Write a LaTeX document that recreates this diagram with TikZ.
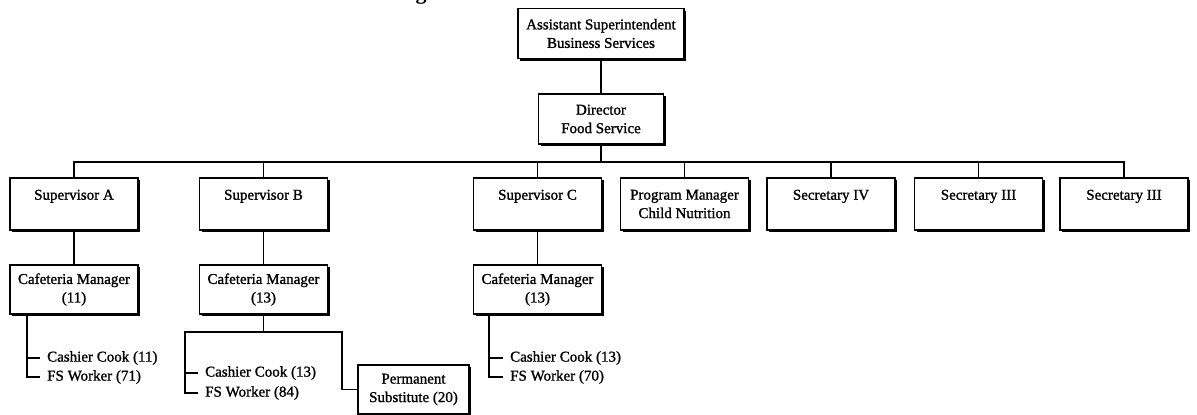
\documentclass[tikz,border=0pt]{standalone}
\usepackage{fontspec}
\setmainfont{Liberation Serif}
\newfontfamily\chartfont[FakeBold=1.2]{Liberation Serif}
\usetikzlibrary{shadows}
\begin{document}
\begin{tikzpicture}[x=1pt,y=-1pt,
  conn/.style={line width=1.9pt,line cap=rect},
  orgbox/.style={draw,line width=1.9pt,fill=white,inner sep=0pt,align=center,
    font=\chartfont\fontsize{15}{18.5}\selectfont,
    drop shadow={shadow xshift=2pt,shadow yshift=-2pt,fill=black,opacity=1}},
  rowbox/.style={orgbox,minimum width=128pt,minimum height=52pt},
  cmbox/.style={orgbox,minimum width=128pt,minimum height=49pt},
  item/.style={inner sep=0pt,anchor=west,font=\chartfont\fontsize{15}{18.5}\selectfont},
  titlefrag/.style={inner sep=0pt,anchor=base,font=\fontsize{22}{24}\selectfont\bfseries}
]
\useasboundingbox (0,0) rectangle (1197,415);
\begin{scope}
\clip (0,0) rectangle (1197,415);
\node[titlefrag] (frag) at (421,-0.5) {g};

% top boxes
\node[orgbox,minimum width=166pt,minimum height=50pt] (asst) at (601,33.5) {Assistant Superintendent\\Business Services};
\node[orgbox,minimum width=125pt,minimum height=50pt] (dir) at (601,119) {Director\\Food Service};

% second row
\node[rowbox] (supA) at (74,204) {Supervisor A\\~};
\node[rowbox] (supB) at (263.5,204) {Supervisor B\\~};
\node[rowbox] (supC) at (537.5,204) {Supervisor C\\~};
\node[rowbox] (pm) at (684.5,204) {Program Manager\\Child Nutrition};
\node[rowbox] (sec4) at (831,204) {Secretary IV\\~};
\node[rowbox] (sec3a) at (978.5,204) {Secretary III\\~};
\node[rowbox] (sec3b) at (1124,204) {Secretary III\\~};

% cafeteria managers
\node[cmbox] (cmA) at (74,289.5) {Cafeteria Manager\\(11)};
\node[cmbox] (cmB) at (263.5,289.5) {Cafeteria Manager\\(13)};
\node[cmbox] (cmC) at (537.5,289.5) {Cafeteria Manager\\(13)};

% permanent substitute
\node[orgbox,minimum width=111pt,minimum height=49pt] (perm) at (413.5,389.5) {Permanent\\Substitute (20)};

% item lists
\node[item] (a1) at (47,358) {Cashier Cook (11)};
\node[item] (a2) at (47,377) {FS Worker (71)};
\node[item] (b1) at (205,373) {Cashier Cook (13)};
\node[item] (b2) at (205,393) {FS Worker (84)};
\node[item] (c1) at (510,358) {Cashier Cook (13)};
\node[item] (c2) at (510,377) {FS Worker (70)};

% coordinates
\coordinate (busL) at (74,162);
\coordinate (busR) at (1124,162);
\coordinate (la) at (27,0);
\coordinate (lb) at (185,332);
\coordinate (rb) at (342,332);
\coordinate (lc) at (489,0);
\end{scope}

% connectors
\draw[conn] (asst.south) -- (dir.north);
\draw[conn] (dir.south) -- (dir.south |- busL);
\draw[conn] (busL) -- (busR);
\foreach \n in {supA,supB,supC,pm,sec4,sec3a,sec3b}{
  \draw[conn] (\n.north) -- (\n.north |- busL);
}
\draw[conn] (supA.south) -- (cmA.north);
\draw[conn] (supB.south) -- (cmB.north);
\draw[conn] (supC.south) -- (cmC.north);

% list A
\draw[conn] (cmA.south -| la) |- ([xshift=-8pt]a2.west);
\draw[conn] (a1.west -| la) -- ([xshift=-8pt]a1.west);
% list B
\draw[conn] (cmB.south) -- (cmB.south |- lb);
\draw[conn] (lb) -- (rb);
\draw[conn] (lb) |- ([xshift=-8pt]b2.west);
\draw[conn] (b1.west -| lb) -- ([xshift=-8pt]b1.west);
\draw[conn] (rb) |- (perm.west);
% list C
\draw[conn] (cmC.south -| lc) |- ([xshift=-8pt]c2.west);
\draw[conn] (c1.west -| lc) -- ([xshift=-8pt]c1.west);
\end{tikzpicture}
\end{document}
